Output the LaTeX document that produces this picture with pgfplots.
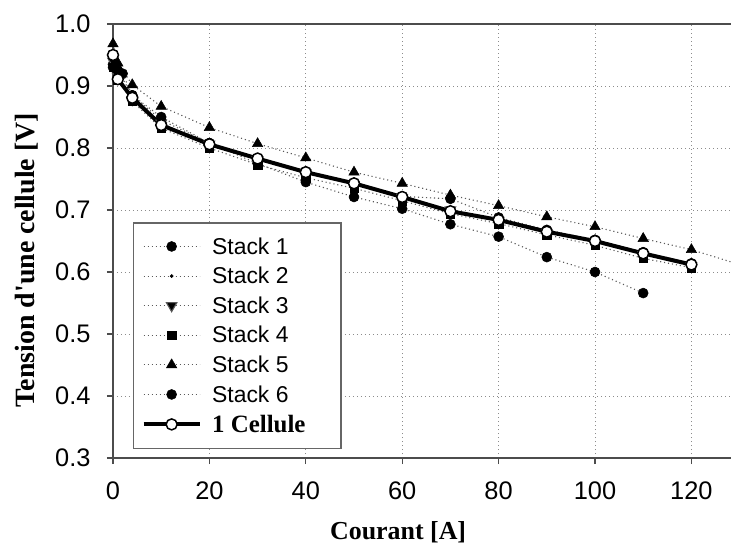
\documentclass[border=0pt]{standalone}
\usepackage{pgfplots}
\pgfplotsset{compat=1.18}
\usepackage{fontspec}
\setmainfont{Liberation Sans}
\newfontfamily\serifbf{Liberation Serif}

% polarisation curves: single-cell voltage of six stacks and one reference cell
\pgfplotstableread{
I     V
0     0.935
1     0.925
4     0.885
10    0.845
20    0.808
30    0.782
40    0.762
50    0.742
60    0.722
70    0.718
80    0.688
90    0.668
100   0.652
110   0.632
120   0.614
}\stackone
\pgfplotstableread{
I     V
0     0.945
1     0.915
4     0.880
10    0.838
20    0.806
30    0.782
40    0.760
50    0.742
60    0.720
70    0.699
80    0.684
90    0.665
100   0.649
110   0.629
120   0.612
}\stacktwo
\pgfplotstableread{
I     V
0     0.940
1     0.915
4     0.878
10    0.840
20    0.806
30    0.781
40    0.760
50    0.741
60    0.720
70    0.700
80    0.683
90    0.664
100   0.648
110   0.628
120   0.610
}\stackthree
\pgfplotstableread{
I     V
0     0.930
1     0.910
4     0.875
10    0.832
20    0.800
30    0.773
40    0.752
50    0.735
60    0.715
70    0.694
80    0.678
90    0.660
100   0.643
110   0.622
120   0.607
}\stackfour
\pgfplotstableread{
I     V
0     0.968
1     0.937
4     0.902
10    0.867
20    0.833
30    0.807
40    0.784
50    0.761
60    0.743
70    0.724
80    0.707
90    0.689
100   0.673
110   0.654
120   0.636
130   0.612
}\stackfive
\pgfplotstableread{
I     V
0     0.930
1     0.925
2     0.920
4     0.885
10    0.850
20    0.808
30    0.775
40    0.745
50    0.721
60    0.702
70    0.677
80    0.657
90    0.624
100   0.600
110   0.566
}\stacksix
\pgfplotstableread{
I     V
0     0.950
1     0.911
4     0.881
10    0.837
20    0.806
30    0.783
40    0.761
50    0.743
60    0.721
70    0.698
80    0.684
90    0.665
100   0.650
110   0.630
120   0.612
}\cellule

\begin{document}
\begin{tikzpicture}
\begin{axis}[
  at={(0,0)}, anchor=south west,
  scale only axis,
  width=626.6bp, height=434bp,
  xmin=0, xmax=130, ymin=0.3, ymax=1.0,
  xtick={0,20,...,120},
  ytick={0.3,0.4,...,1.0},
  clip=false,
  grid=major,
  grid style={black!45, line width=1bp, dash pattern=on 1.2bp off 2.8bp},
  axis line style={black!70, line width=1.2bp},
  tick style={black!70, line width=1.2bp},
  tick align=outside,
  major tick length=6bp,
  xtick pos=bottom, ytick pos=left,
  /pgf/number format/assume math mode=true,
  tick label style={font=\fontsize{25.5}{30}\selectfont},
  yticklabel style={xshift=-13bp,
    /pgf/number format/fixed, /pgf/number format/fixed zerofill,
    /pgf/number format/precision=1},
  xticklabel style={yshift=-14bp},
  xlabel={Courant [A]},
  ylabel={Tension d'une cellule [V]},
  xlabel style={font=\serifbf\bfseries\fontsize{26}{30}\selectfont,
    at={(axis description cs:0.455,-0.170)}, anchor=center},
  ylabel style={font=\serifbf\bfseries\fontsize{28}{32}\selectfont,
    at={(axis description cs:-0.138,0.456)}, anchor=center},
  legend style={at={(axis description cs:0.032,0.021)}, anchor=south west,
    draw=black!60, line width=1.2bp, fill=white,
    font=\fontsize{23}{27}\selectfont,
    inner xsep=8bp, inner ysep=13bp,
    row sep=8.5bp,
    nodes={inner sep=1.5bp},
    /tikz/every odd column/.append style={column sep=9bp}},
  legend cell align=left,
  legend image code/.code={\draw[mark repeat=2,mark phase=2,#1]
    plot coordinates {(0bp,0bp) (28bp,0bp) (56bp,0bp)};},
  stackline/.style={black!65, line width=1.1bp, dash pattern=on 1.1bp off 2.9bp,
    mark options={solid, fill=black, draw=black, line width=0.5bp}},
]
\addplot[stackline, mark=*, mark size=5bp] table[x=I, y=V] {\stackone};
\addlegendentry{Stack 1}
\addplot[stackline, mark=*, mark size=1.6bp] table[x=I, y=V] {\stacktwo};
\addlegendentry{Stack 2}
\addplot[stackline, mark=triangle*, mark size=6bp,
  mark options={solid, fill=black, rotate=180}] table[x=I, y=V] {\stackthree};
\addlegendentry{Stack 3}
\addplot[stackline, mark=square*, mark size=4.2bp] table[x=I, y=V] {\stackfour};
\addlegendentry{Stack 4}
\addplot[stackline, mark=triangle*, mark size=6bp] table[x=I, y=V] {\stackfive};
\addlegendentry{Stack 5}
\addplot[stackline, mark=*, mark size=5bp] table[x=I, y=V] {\stacksix};
\addlegendentry{Stack 6}
\addplot[black, line width=4bp, mark=*, mark size=5.5bp,
  mark options={fill=white, draw=black, line width=1.5bp}] table[x=I, y=V] {\cellule};
\addlegendentry{\serifbf\bfseries\fontsize{25}{27}\selectfont 1 Cellule\hspace*{26bp}}
\end{axis}
\pgfresetboundingbox
\path[use as bounding box] (-113bp,-89bp) rectangle (618bp,458bp);
\end{tikzpicture}
\end{document}
